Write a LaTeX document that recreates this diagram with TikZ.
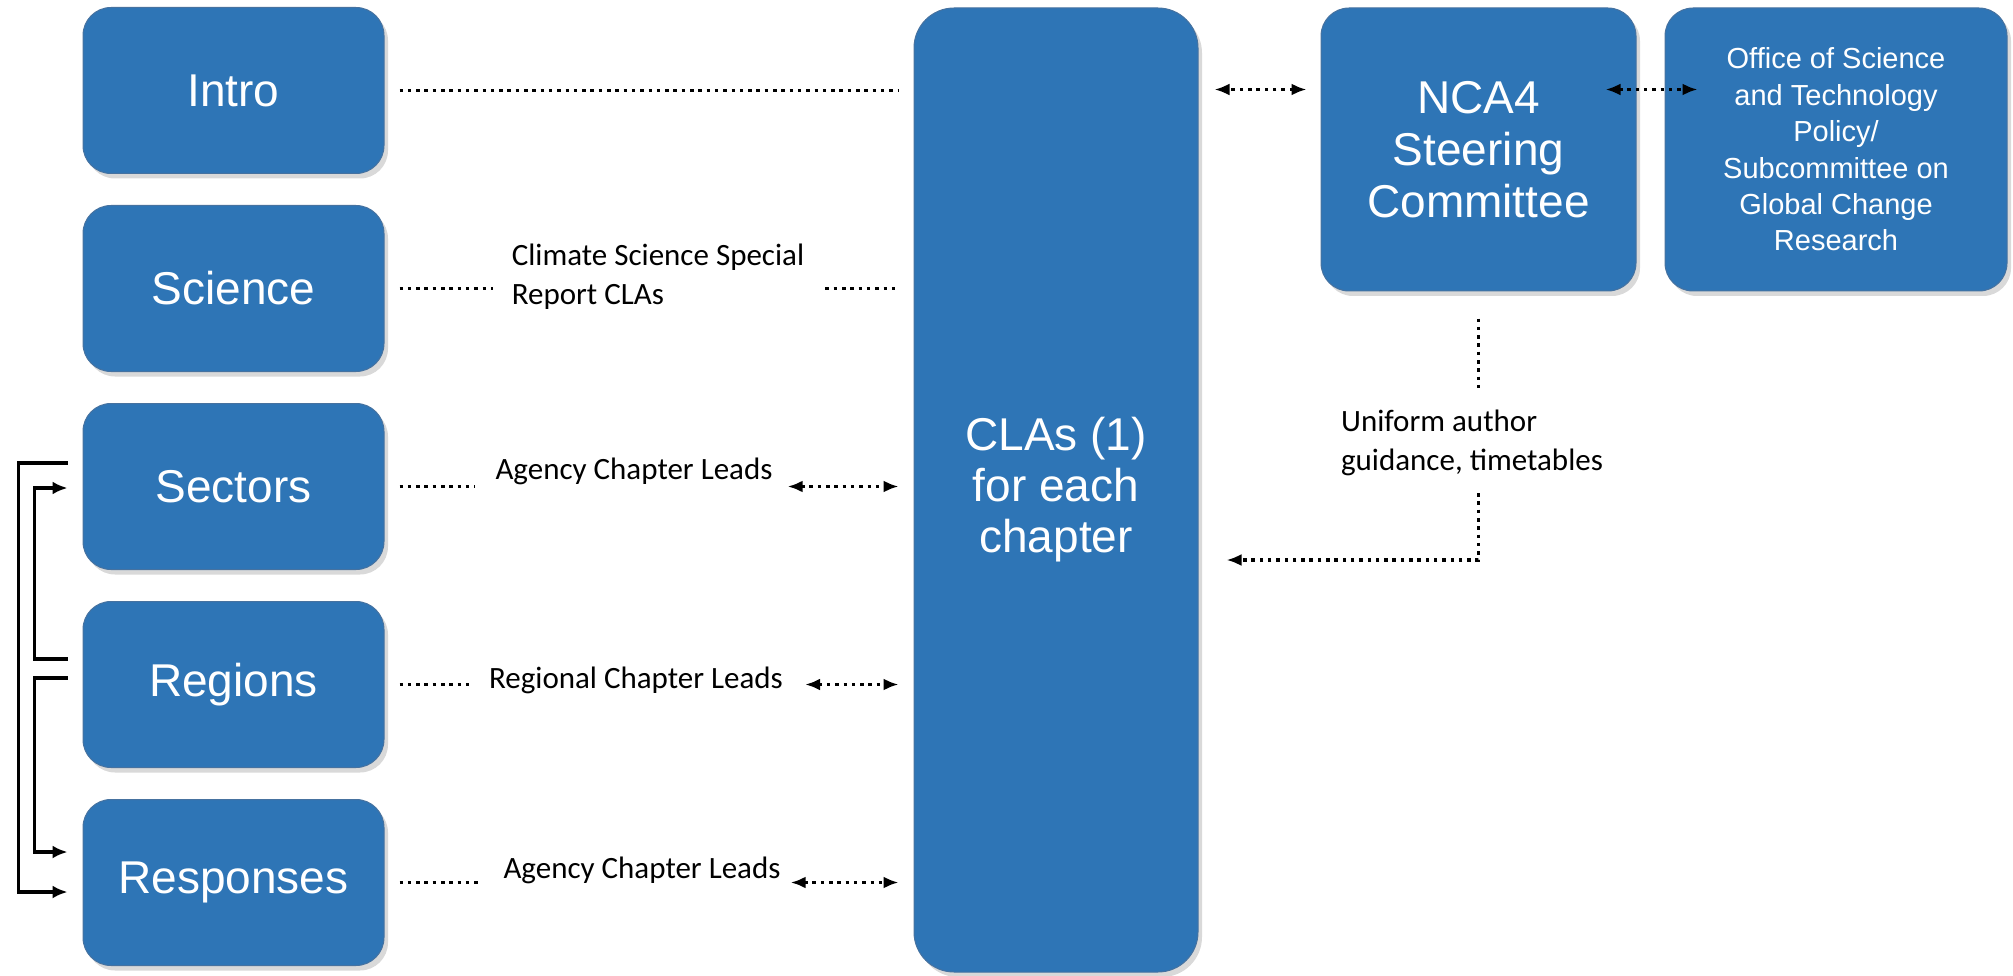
\documentclass[tikz,border=0pt]{standalone}
\usepackage{fontspec}
\setmainfont{Liberation Sans}
\newfontfamily\labelfont{Carlito}
\usetikzlibrary{arrows.meta,calc,positioning,shadows}
\definecolor{boxblue}{RGB}{46,117,182}
\definecolor{boxedge}{RGB}{70,114,160}
\tikzset{every picture/.style={
  >={Latex[length=15pt,width=12pt]}   % Filled triangle tips.
  }
}

\begin{document}
\begin{tikzpicture}[x=1pt,y=-1pt,
    boxbase/.style={
      rectangle,rounded corners=28pt,fill=boxblue,draw=boxedge,
      line width=1pt,text=white,align=center,
      drop shadow={shadow xshift=4pt,shadow yshift=-5pt,opacity=.3}
    },
    partbox/.style={boxbase,minimum width=301pt,minimum height=166pt,
      font=\fontsize{46}{52}\selectfont},
    leadlbl/.style={font=\labelfont\fontsize{31}{39}\selectfont,inner sep=0pt},
    dotline/.style={line width=3.3pt,dash pattern=on 3.5pt off 4.8pt},
    feed/.style={line width=3.3pt,-{Latex[length=15pt,width=13pt]}}
  ]

  \useasboundingbox (0,0) rectangle (2013,976);

  % The five parts of the report.
  \node[partbox] (intro) at (233.5,90.5) {Intro};
  \begin{scope}[node distance=31pt]
    \node[partbox,below=of intro] (science) {Science};
    \node[partbox,below=of science] (sectors) {Sectors};
    \node[partbox,below=of sectors] (regions) {Regions};
    \node[partbox,below=of regions] (responses) {Responses};
  \end{scope}

  % Chapter authors, steering committee and OSTP.
  \node[boxbase,minimum width=284pt,minimum height=964pt,rounded corners=40pt,
    font=\fontsize{46}{51}\selectfont] (cla) at (1056,490)
    {CLAs (1)\\for each\\chapter};
  \node[boxbase,minimum width=315pt,minimum height=283pt,
    font=\fontsize{46}{52}\selectfont] (steer) at (1478.5,149.5)
    {NCA4\\Steering\\Committee};
  \node[boxbase,minimum width=342pt,minimum height=283pt,right=28pt of steer,
    font=\fontsize{29}{36.4}\selectfont] (ostp)
    {Office of Science\\and Technology\\Policy/\\Subcommittee on\\Global Change\\Research};

  % Labels on the links.
  \node[leadlbl,align=left] (cssr) at (658,277) {Climate Science Special\\Report CLAs};
  \node[leadlbl] (agency1) at (634,471) {Agency Chapter Leads};
  \node[leadlbl] (regional) at (636,680) {Regional Chapter Leads};
  \node[leadlbl] (agency2) at (642,870) {Agency Chapter Leads};
  \node[leadlbl,align=left] (guide) at (1472,443) {Uniform author\\guidance, timetables};

  % Link the parts to the chapter authors.
  \draw[dotline,shorten <=15pt,shorten >=15pt] (intro.east) -- (intro.east -| cla.west);

  \draw[dotline,shorten <=15pt] (science.east) -- ([xshift=-19pt]science.east -| cssr.west);
  \draw[dotline,shorten >=15pt] ([xshift=21pt]science.east -| cssr.east) -- (science.east -| cla.west);

  \draw[dotline,shorten <=15pt] (sectors.east) -- ([xshift=-21pt]sectors.east -| agency1.west);
  \draw[dotline,<->,shorten >=15pt] ([xshift=15pt]sectors.east -| agency1.east) -- (sectors.east -| cla.west);

  \draw[dotline,shorten <=15pt] (regions.east) -- ([xshift=-19pt]regions.east -| regional.west);
  \draw[dotline,<->,shorten >=15pt] ([xshift=22pt]regions.east -| regional.east) -- (regions.east -| cla.west);

  \draw[dotline,shorten <=15pt] (responses.east) -- ([xshift=-24pt]responses.east -| agency2.west);
  \draw[dotline,<->,shorten >=15pt] ([xshift=10pt]responses.east -| agency2.east) -- (responses.east -| cla.west);

  % Steering committee links.
  \draw[dotline,<->,shorten <=14pt,shorten >=16pt] ([yshift=60pt]steer.west)
    -- ([yshift=60pt]steer.west -| cla.east);
  \draw[dotline,<->] ([xshift=-31pt,yshift=60pt]steer.east)
    -- ([xshift=33pt,yshift=60pt]ostp.west);

  \draw[dotline,shorten <=27pt] (steer.south) -- ([yshift=17pt]steer.south |- guide.north);
  \draw[dotline,->,shorten >=28pt] ([yshift=-17pt]steer.south |- guide.south)
    |- ([yshift=-70pt]cla.east);

  % Feedback between the sector, region and response chapters.
  \draw[feed] ([xshift=-15pt,yshift=23.5pt]sectors.west) -- ++(-49,0)
    |- ([xshift=-15pt,yshift=-9.5pt]responses.west);
  \draw[feed] ([xshift=-15pt,yshift=25.5pt]regions.west) -- ++(-33,0)
    |- ([xshift=-15pt,yshift=-1.5pt]sectors.west);
  \draw[feed] ([xshift=-15pt,yshift=6.5pt]regions.west) -- ++(-33,0)
    |- ([xshift=-15pt,yshift=30.5pt]responses.west);
\end{tikzpicture}
\end{document}
